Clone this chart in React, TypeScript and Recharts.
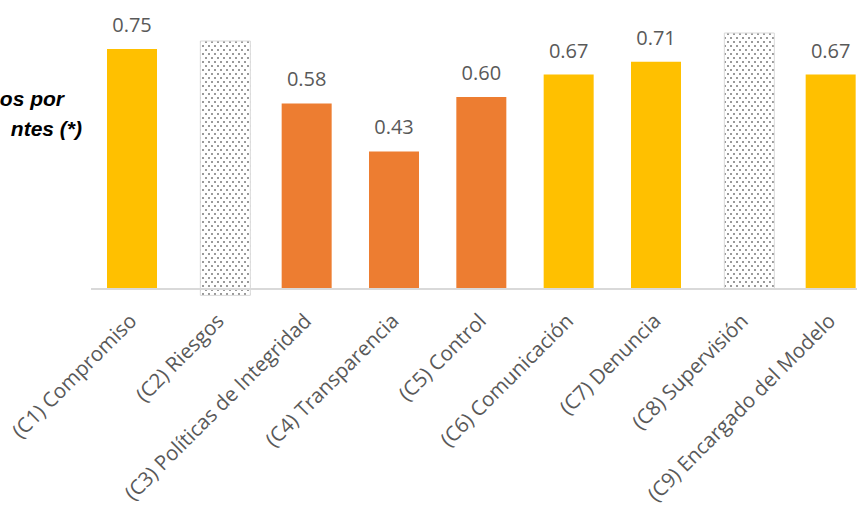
import React from 'react';
import { BarChart, Bar, XAxis, YAxis, Cell, LabelList, ReferenceLine } from 'recharts';

const categories = [
  '(C1) Compromiso',
  '(C2) Riesgos',
  '(C3) Políticas de Integridad',
  '(C4) Transparencia',
  '(C5) Control',
  '(C6) Comunicación',
  '(C7) Denuncia',
  '(C8) Supervisión',
  '(C9) Encargado del Modelo',
];
const scores: (number | null)[] = [0.75, null, 0.58, 0.43, 0.6, 0.67, 0.71, null, 0.67];
const notEvaluated: ([number, number] | null)[] = [null, [-0.02, 0.775], null, null, null, null, null, [0, 0.8], null];
const barColors = ['#FFC000', '#FFC000', '#ED7D31', '#ED7D31', '#ED7D31', '#FFC000', '#FFC000', '#FFC000', '#FFC000'];
const titleLines = ['os por', 'ntes (*)'];

const data = categories.map((name, i) => ({ name, score: scores[i], na: notEvaluated[i] }));

const Tick = (props: any) => {
  const { x, y, payload } = props;
  const ax = x - 7;
  return (
    <text
      x={ax}
      y={y}
      dy="0.71em"
      textAnchor="end"
      transform={`rotate(-45, ${ax}, ${y})`}
      fontFamily="'Open Sans', sans-serif"
      fontSize={20.5}
      fill="#595959"
    >
      {payload.value}
    </text>
  );
};

const titleStyle: React.CSSProperties = {
  position: 'absolute',
  font: "italic bold 21px 'Liberation Sans', Arial, sans-serif",
  lineHeight: '21px',
  whiteSpace: 'nowrap',
  color: '#000',
};

export default function App() {
  return (
    <div style={{ position: 'absolute', left: 0, top: 0, width: 857, height: 507, overflow: 'hidden', background: '#fff' }}>
      <div style={{ ...titleStyle, right: 857 - 64, top: 88 }}>{titleLines[0]}</div>
      <div style={{ ...titleStyle, right: 857 - 82, top: 118 }}>{titleLines[1]}</div>
      <BarChart
        width={900}
        height={507}
        data={data}
        margin={{ top: 17, right: 23, left: 91, bottom: 0 }}
        barGap={-44}
      >
        <defs>
          <pattern id="dots" width="6" height="8" patternUnits="userSpaceOnUse">
            <rect x="0" y="0" width="6" height="8" fill="#ffffff" />
            <rect x="1" y="1" width="2" height="2" fill="#9a9a9a" />
            <rect x="4" y="5" width="2" height="2" fill="#9a9a9a" />
          </pattern>
        </defs>
        <XAxis
          dataKey="name"
          interval={0}
          axisLine={false}
          tickLine={false}
          tickSize={0}
          tickMargin={7}
          height={202}
          tick={<Tick />}
        />
        <YAxis hide domain={[-0.05, 0.85]} allowDataOverflow />
        <Bar dataKey="score" barSize={50} isAnimationActive={false}>
          {data.map((d, i) => (
            <Cell key={i} fill={barColors[i]} />
          ))}
          <LabelList
            dataKey="score"
            position="top"
            offset={17}
            formatter={(v: any) => (v == null ? '' : Number(v).toFixed(2))}
            style={{ fontFamily: "'Open Sans', sans-serif", fontSize: 20, fill: '#595959' }}
          />
        </Bar>
        <Bar dataKey="na" barSize={50} fill="url(#dots)" stroke="#d9d9d9" strokeWidth={1} isAnimationActive={false} />
        <ReferenceLine y={0} stroke="#d9d9d9" strokeWidth={2} />
      </BarChart>
    </div>
  );
}
